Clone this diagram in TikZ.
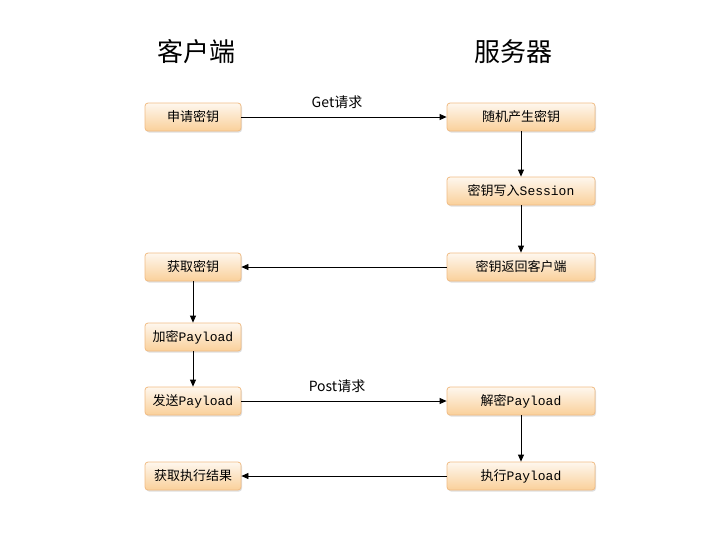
\documentclass[tikz,border=0pt]{standalone}
\usepackage{fontspec}
\newfontfamily\cjk{Noto Sans CJK SC}
\setmonofont{Liberation Mono}
\usetikzlibrary{arrows.meta, positioning, shadows}

\definecolor{boxtop}{HTML}{FEF7EE}
\definecolor{boxbot}{HTML}{FAD09A}
\definecolor{boxline}{HTML}{F0BC84}

\begin{document}
\begin{tikzpicture}[
  x=1pt, y=-1pt,
  box/.style={rectangle, rounded corners=3pt, draw=boxline, line width=0.8pt,
              top color=boxtop, bottom color=boxbot,
              drop shadow={shadow xshift=1pt, shadow yshift=-1.5pt, opacity=0.25},
              minimum width=96pt, minimum height=28pt, inner sep=0pt,
              font=\cjk\fontsize{13}{15}\selectfont},
  srvbox/.style={box, minimum width=148pt},
  arr/.style={-{Triangle[length=7pt, width=6pt]}, line width=0.8pt},
  head/.style={font=\cjk\fontsize{26}{30}\selectfont},
  lbl/.style={font=\cjk\fontsize{14}{16}\selectfont, above=5pt, xshift=-7pt}
]
\useasboundingbox (0,0) rectangle (723,542);

% column titles
\node[head] (client) at (196,52) {客户端};
\node[head] (server) at (513,52) {服务器};

% client side
\node[box] (askkey)  at (193,117) {申请密钥};
\node[box] (getkey)  at (193,267) {获取密钥};
\node[box] (encpl)   at (193,337) {加密\texttt{Payload}};
\node[box] (sendpl)  at (193,401) {发送\texttt{Payload}};
\node[box] (result)  at (193,476) {获取执行结果};

% server side
\node[srvbox] (genkey)  at (521,117) {随机产生密钥};
\node[srvbox] (savekey) at (521,191) {密钥写入\texttt{Session}};
\node[srvbox] (retkey)  at (521,267) {密钥返回客户端};
\node[srvbox] (decpl)   at (521,401) {解密\texttt{Payload}};
\node[srvbox] (runpl)   at (521,476) {执行\texttt{Payload}};

\draw[arr] (askkey) -- node[lbl] {Get请求} (genkey);
\draw[arr] (genkey) -- (savekey);
\draw[arr] (savekey) -- (retkey);
\draw[arr] (retkey) -- (getkey);
\draw[arr] (getkey) -- (encpl);
\draw[arr] (encpl) -- (sendpl);
\draw[arr] (sendpl) -- node[lbl] {Post请求} (decpl);
\draw[arr] (decpl) -- (runpl);
\draw[arr] (runpl) -- (result);

\end{tikzpicture}
\end{document}
